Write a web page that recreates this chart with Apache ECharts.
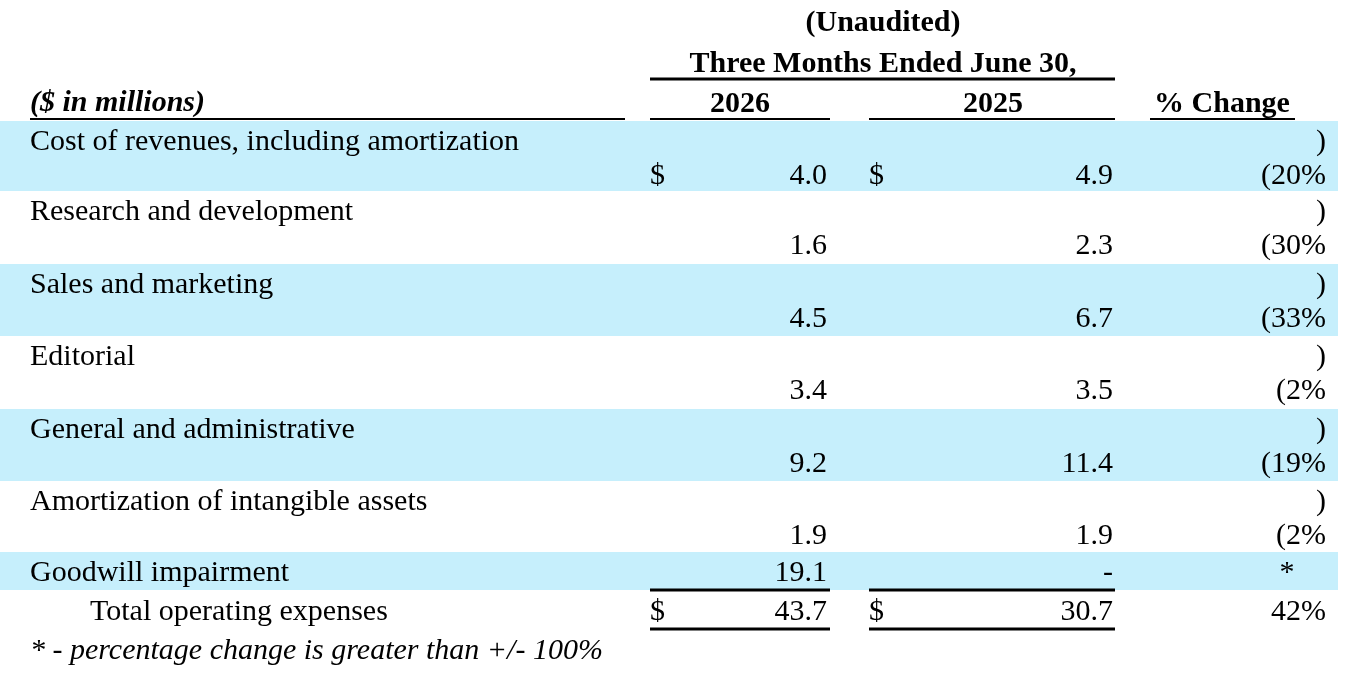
<!DOCTYPE html>
<html><head><meta charset="utf-8">
<script src="https://cdn.jsdelivr.net/npm/echarts@6/dist/echarts.min.js"></script>
<style>html,body{margin:0;background:#fff}#c{width:1360px;height:678px}</style>
</head><body><div id="c"></div>
<script>
// table data
const rowLabels = ['Cost of revenues, including amortization', 'Research and development', 'Sales and marketing',
  'Editorial', 'General and administrative', 'Amortization of intangible assets', 'Goodwill impairment'];
const values2026 = ['4.0', '1.6', '4.5', '3.4', '9.2', '1.9', '19.1'];
const values2025 = ['4.9', '2.3', '6.7', '3.5', '11.4', '1.9', '-'];
const pctChange = ['(20%', '(30%', '(33%', '(2%', '(19%', '(2%', '*'];
const totalLabel = 'Total operating expenses';
const total2026 = '43.7';
const total2025 = '30.7';
const totalPct = '42%';
const footnote = '* - percentage change is greater than +/- 100%';

const FONT = '"Liberation Serif", "Times New Roman", serif';
const FS = 30;
const BLUE = '#c6effc';
const g = [];
function txt(x, y, s, align, weight, style) {
  g.push({type: 'text', x, y, style: {text: s, fill: '#000', font: (style || 'normal') + ' ' + (weight || 'normal') + ' ' + FS + 'px ' + FONT,
    textAlign: align || 'left', textVerticalAlign: 'middle'}});
}
function line(x1, x2, y, w) {
  g.push({type: 'line', shape: {x1, y1: y, x2, y2: y}, style: {stroke: '#000', lineWidth: w || 2}});
}
// header
txt(883, 23, '(Unaudited)', 'center', 'bold');
txt(883, 64, 'Three Months Ended June 30,', 'center', 'bold');
line(650, 1115, 79, 3);
txt(30, 103, '($ in millions)', 'left', 'bold', 'italic');
txt(740, 104, '2026', 'center', 'bold');
txt(993, 104, '2025', 'center', 'bold');
txt(1222, 104, '% Change', 'center', 'bold');
line(30, 625, 119); line(650, 830, 119); line(869, 1115, 119); line(1150, 1295, 119);

const tops = [121, 191, 264, 336, 409, 481, 552];
rowLabels.forEach((lab, i) => {
  const top = tops[i];
  const last = i === rowLabels.length - 1;
  const bottom = last ? 590 : tops[i + 1];
  if (i % 2 === 0) g.push({type: 'rect', shape: {x: 0, y: top, width: 1338, height: bottom - top}, style: {fill: BLUE}, z: -1});
  if (last) {
    const y = 573;
    txt(30, y, lab); txt(827, y, values2026[i], 'right'); txt(1113, y, values2025[i], 'right'); txt(1287, y, pctChange[i], 'center');
  } else {
    txt(30, top + 21, lab);
    const y = top + 55;
    if (i === 0) { txt(650, y, '$'); txt(869, y, '$'); }
    txt(827, y, values2026[i], 'right'); txt(1113, y, values2025[i], 'right');
    txt(1326, top + 21, ')', 'right'); txt(1326, y, pctChange[i], 'right');
  }
});
// total row
line(650, 830, 590, 3); line(869, 1115, 590, 3);
txt(90, 612, totalLabel);
txt(650, 612, '$'); txt(869, 612, '$');
txt(827, 612, total2026, 'right'); txt(1113, 612, total2025, 'right'); txt(1326, 612, totalPct, 'right');
line(650, 830, 629, 3); line(869, 1115, 629, 3);
txt(30, 651, footnote, 'left', 'normal', 'italic');

const chart = echarts.init(document.getElementById('c'));
chart.setOption({animation: false, graphic: {elements: g}});
</script></body></html>
